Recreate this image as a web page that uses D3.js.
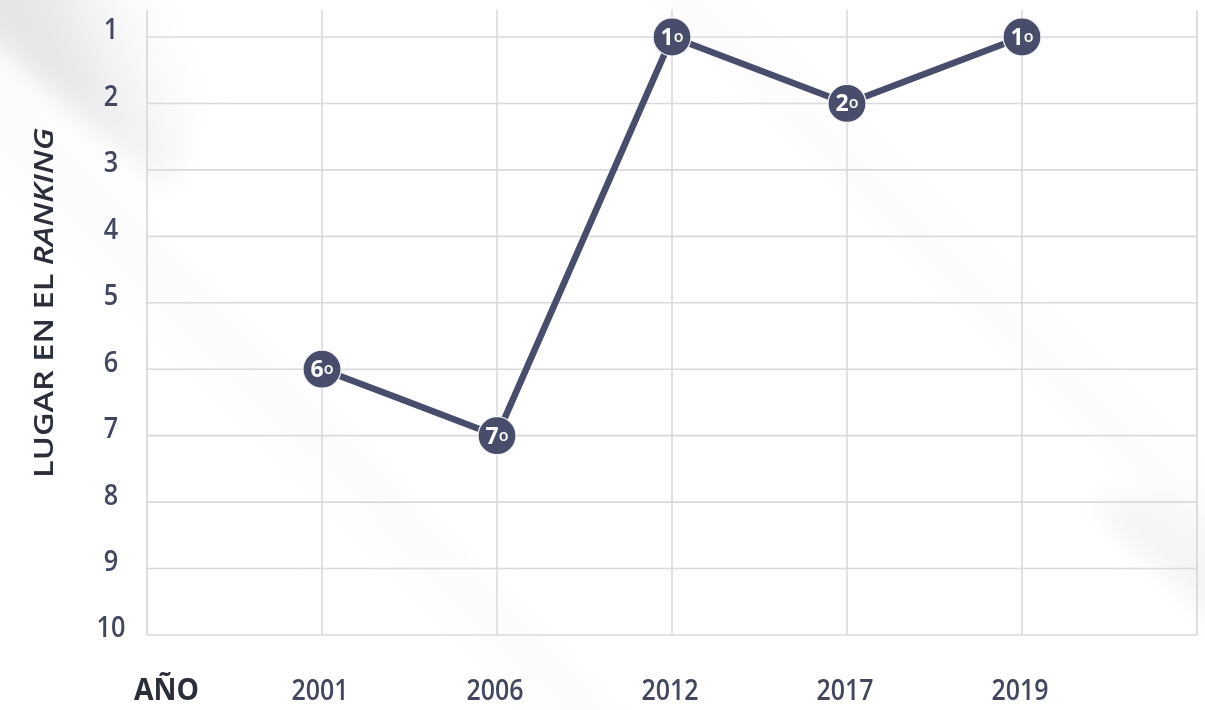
<!DOCTYPE html>
<html>
<head>
<meta charset="utf-8">
<script src="https://cdn.jsdelivr.net/npm/d3@7"></script>
<style>
html,body{margin:0;padding:0;background:#fff;}
svg{display:block;}
</style>
</head>
<body>
<svg id="chart" width="1205" height="710"></svg>
<script>
// ---- data ----
const years = ["2001", "2006", "2012", "2017", "2019"];
const ranks = [6, 7, 1, 2, 1];
const rankTicks = [1, 2, 3, 4, 5, 6, 7, 8, 9, 10];
const yAxisTitle = ["LUGAR EN EL ", "RANKING"];
const xAxisTitle = "AÑO";

const svg = d3.select("#chart");
const W = 1205, H = 710;
const m = {left: 147, right: 1197, top: 10, bottom: 635};

// background shading (soft diagonal bands)
const defs = svg.append("defs");
defs.append("filter").attr("id", "blur").attr("x", "-20%").attr("y", "-20%").attr("width", "140%").attr("height", "140%")
  .append("feGaussianBlur").attr("stdDeviation", 14);
function grad(id, stops, x1, y1, x2, y2) {
  const g = defs.append("linearGradient").attr("id", id)
    .attr("gradientUnits", "userSpaceOnUse")
    .attr("x1", x1).attr("y1", y1).attr("x2", x2).attr("y2", y2);
  stops.forEach(s => g.append("stop").attr("offset", s[0]).attr("stop-color", s[1]).attr("stop-opacity", s[2]));
}
grad("g1", [[0, "#e6e6e8", 1], [1, "#ffffff", 0]], 60, 60, 200, 0);
grad("g2", [[0, "#ffffff", 0], [0.6, "#ececee", 0.9], [1, "#ffffff", 0]], 250, 500, 450, 300);
grad("g3", [[0, "#ffffff", 0], [1, "#ededef", 0.9]], 900, 100, 800, 200);
grad("g4", [[0, "#ffffff", 0], [1, "#eaeaec", 0.9]], 1200, 420, 1120, 500);
svg.append("rect").attr("width", W).attr("height", H).attr("fill", "#ffffff");
const bg = svg.append("g").attr("filter", "url(#blur)");
bg.append("polygon").attr("points", "-40,-40 -40,15 170,190 240,-40").attr("fill", "url(#g1)");
bg.append("polygon").attr("points", "-40,40 -40,200 510,750 650,750").attr("fill", "url(#g2)").attr("opacity", 0.7);
bg.append("polygon").attr("points", "620,-40 760,-40 1245,445 1245,585").attr("fill", "url(#g3)").attr("opacity", 0.6);
bg.append("polygon").attr("points", "1090,500 1245,650 1245,500").attr("fill", "url(#g4)").attr("opacity", 0.6);

// scales
const x = d3.scalePoint().domain(years).range([m.left, m.right]).padding(1);
const y = d3.scaleLinear().domain([1, 10]).range([37, m.bottom]);

const gridColor = "#dadadd";
// horizontal gridlines
svg.append("g").selectAll("line").data(rankTicks).join("line")
  .attr("x1", m.left).attr("x2", m.right)
  .attr("y1", d => y(d)).attr("y2", d => y(d))
  .attr("stroke", gridColor).attr("stroke-width", 1.6);
// vertical gridlines
svg.append("g").selectAll("line").data(years).join("line")
  .attr("x1", d => x(d)).attr("x2", d => x(d))
  .attr("y1", m.top).attr("y2", m.bottom)
  .attr("stroke", gridColor).attr("stroke-width", 1.6);
// frame lines
svg.append("line").attr("x1", m.left).attr("x2", m.left).attr("y1", m.top).attr("y2", m.bottom)
  .attr("stroke", gridColor).attr("stroke-width", 1.8);
svg.append("line").attr("x1", m.right).attr("x2", m.right).attr("y1", m.top).attr("y2", m.bottom)
  .attr("stroke", gridColor).attr("stroke-width", 1.8);

const font = "'Open Sans', 'Noto Sans', sans-serif";
const labelColor = "#42475f";

// y tick labels
svg.append("g").selectAll("text").data(rankTicks).join("text")
  .attr("transform", d => `translate(111,${y(d) - 8}) scale(0.87,1)`)
  .attr("dy", "0.36em")
  .attr("text-anchor", "middle")
  .attr("font-family", font).attr("font-size", 29).attr("font-weight", 600).attr("fill", labelColor)
  .text(d => d);

// x tick labels
svg.append("g").selectAll("text").data(years).join("text")
  .attr("transform", d => `translate(${x(d) - 2},700) scale(0.86,1)`)
  .attr("text-anchor", "middle")
  .attr("font-family", font).attr("font-size", 29).attr("font-weight", 600).attr("fill", labelColor)
  .text(d => d);

// x axis title
svg.append("text").attr("x", 134).attr("y", 700)
  .attr("textLength", 65).attr("lengthAdjust", "spacingAndGlyphs")
  .attr("font-family", font).attr("font-size", 30).attr("font-weight", 700).attr("fill", "#2a2d3a")
  .text(xAxisTitle);

// y axis title
const yt = svg.append("text").attr("transform", "translate(53,478) rotate(-90)")
  .attr("textLength", 350).attr("lengthAdjust", "spacingAndGlyphs")
  .attr("font-family", font).attr("font-size", 27).attr("font-weight", 600).attr("fill", "#2a2d3a");
yt.append("tspan").text(yAxisTitle[0]);
yt.append("tspan").attr("font-style", "italic").text(yAxisTitle[1]);

// line
const pts = years.map((d, i) => ({year: d, rank: ranks[i]}));
const lineColor = "#474d6b";
svg.append("path").datum(pts)
  .attr("d", d3.line().x(d => x(d.year)).y(d => y(d.rank)))
  .attr("fill", "none").attr("stroke", lineColor).attr("stroke-width", 6.5).attr("stroke-linejoin", "round");

// markers
const mk = svg.append("g").selectAll("g").data(pts).join("g")
  .attr("transform", d => `translate(${x(d.year)},${y(d.rank)})`);
mk.append("circle").attr("r", 19).attr("fill", lineColor).attr("stroke", "#f4f4f6").attr("stroke-width", 1.2);
const mt = mk.append("text").attr("text-anchor", "middle").attr("y", 8)
  .attr("font-family", font).attr("fill", "#ffffff").attr("font-weight", 700);
mt.append("tspan").attr("font-size", 23).text(d => d.rank);
mt.append("tspan").attr("font-size", 16).attr("font-weight", 600).attr("dy", -3).text("o");
</script>
</body>
</html>
